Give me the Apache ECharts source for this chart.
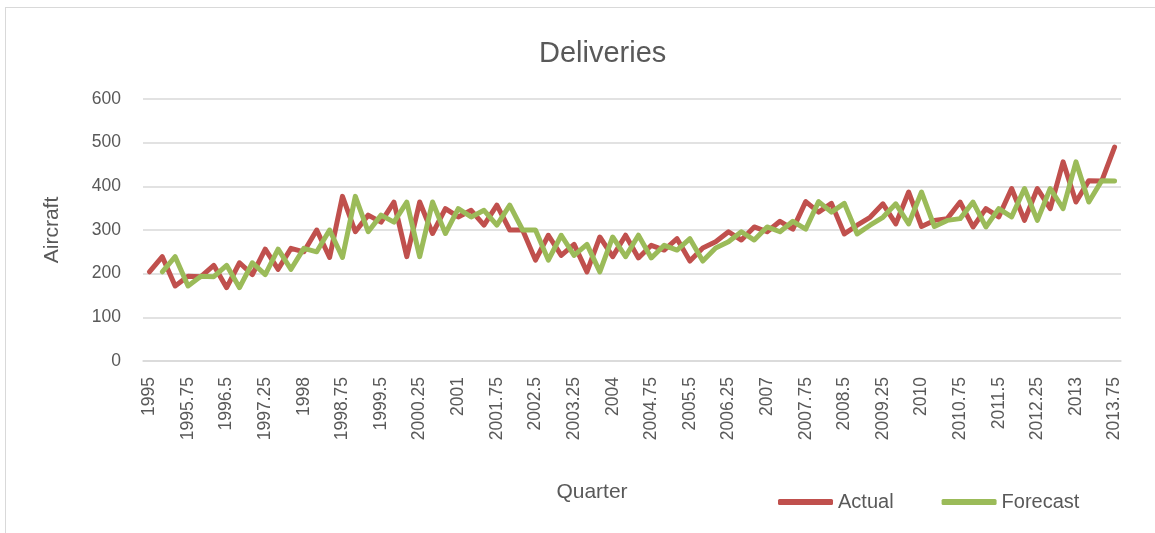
<!DOCTYPE html>
<html>
<head>
<meta charset="utf-8">
<script src="https://cdn.jsdelivr.net/npm/echarts@6/dist/echarts.min.js"></script>
<style>
  html, body { margin: 0; padding: 0; background: #fff; overflow: hidden; }
  #chart { position: absolute; left: 0; top: 0; width: 1155px; height: 533px; }
  /* light frame of the chart area, only its left and top edges are in view */
  .frame {
    position: absolute; left: 5px; top: 7px; width: 1160px; height: 540px;
    border: 1px solid #d9d9d9; pointer-events: none;
  }
</style>
</head>
<body>
<div class="frame"></div>
<div id="chart"></div>
<script>
const quarters = [
  '1995', '1995.25', '1995.5', '1995.75', '1996', '1996.25', '1996.5', '1996.75',
  '1997', '1997.25', '1997.5', '1997.75', '1998', '1998.25', '1998.5', '1998.75',
  '1999', '1999.25', '1999.5', '1999.75', '2000', '2000.25', '2000.5', '2000.75',
  '2001', '2001.25', '2001.5', '2001.75', '2002', '2002.25', '2002.5', '2002.75',
  '2003', '2003.25', '2003.5', '2003.75', '2004', '2004.25', '2004.5', '2004.75',
  '2005', '2005.25', '2005.5', '2005.75', '2006', '2006.25', '2006.5', '2006.75',
  '2007', '2007.25', '2007.5', '2007.75', '2008', '2008.25', '2008.5', '2008.75',
  '2009', '2009.25', '2009.5', '2009.75', '2010', '2010.25', '2010.5', '2010.75',
  '2011', '2011.25', '2011.5', '2011.75', '2012', '2012.25', '2012.5', '2012.75',
  '2013', '2013.25', '2013.5', '2013.75'
]

const actual = [
  204, 239, 172, 194, 193, 219, 168, 225, 198, 256, 210, 258, 250, 300, 237, 377,
  296, 334, 318, 364, 239, 364, 292, 349, 330, 345, 311, 357, 300, 300, 231, 288,
  242, 267, 204, 284, 239, 288, 236, 265, 254, 280, 229, 259, 273, 296, 277, 307,
  296, 320, 302, 365, 341, 361, 291, 311, 329, 360, 314, 387, 308, 322, 326, 364,
  307, 349, 330, 395, 322, 395, 349, 456, 364, 413, 412, 490
]

// forecast has no value for the first quarter
const forecast = [
  null, 204, 239, 172, 194, 193, 219, 168, 225, 198, 256, 210, 258, 250, 300, 237,
  377, 296, 334, 318, 364, 239, 364, 292, 349, 330, 345, 311, 357, 300, 300, 231,
  288, 242, 267, 204, 284, 239, 288, 236, 265, 254, 280, 229, 259, 273, 296, 277,
  307, 296, 320, 302, 365, 341, 361, 291, 311, 329, 360, 314, 387, 308, 322, 326,
  364, 307, 349, 330, 395, 322, 395, 349, 456, 364, 413, 412
]

const yTicks = [0, 100, 200, 300, 400, 500, 600]

const COLOR_ACTUAL   = '#c0504d'
const COLOR_FORECAST = '#9bbb59'
const TEXT_COLOR     = '#595959'
const GRID_COLOR     = '#d9d9d9'
const FONT           = '"Liberation Sans", Arial, sans-serif'

const chart = echarts.init(document.getElementById('chart'), null, { renderer: 'canvas' })

chart.setOption({
  animation: false,
  backgroundColor: 'transparent',
  textStyle: { fontFamily: FONT, color: TEXT_COLOR },

  title: {
    text: 'Deliveries',
    left: 534,
    top: 34,
    textStyle: { fontSize: 29, fontWeight: 'normal', color: TEXT_COLOR, fontFamily: FONT },
  },

  legend: {
    left: 778,
    top: 492,
    padding: 0,
    icon: 'roundRect',
    itemWidth: 55,
    itemHeight: 6,
    itemGap: 48,
    textStyle: { fontSize: 20, color: TEXT_COLOR, fontFamily: FONT },
    data: ['Actual', 'Forecast'],
  },

  grid: { left: 143, right: 34, top: 99, bottom: 172, containLabel: false },

  xAxis: {
    type: 'category',
    data: quarters,
    boundaryGap: true,
    name: 'Quarter',
    nameLocation: 'middle',
    nameGap: 121,
    nameTextStyle: { fontSize: 21, color: TEXT_COLOR, fontFamily: FONT, padding: [0, 80, 0, 0] },
    axisLine: { lineStyle: { color: GRID_COLOR, width: 1.5 } },
    axisTick: { show: false },
    axisLabel: {
      interval: 2,
      rotate: 90,
      margin: 16,
      fontSize: 17.5,
      color: TEXT_COLOR,
      fontFamily: FONT,
    },
    splitLine: { show: false },
  },

  yAxis: {
    type: 'value',
    min: yTicks[0],
    max: yTicks[yTicks.length - 1],
    interval: yTicks[1] - yTicks[0],
    name: 'Aircraft',
    nameLocation: 'middle',
    nameGap: 80,
    nameTextStyle: { fontSize: 21, color: TEXT_COLOR, fontFamily: FONT },
    axisLine: { show: false },
    axisTick: { show: false },
    axisLabel: { margin: 22, fontSize: 17.5, color: TEXT_COLOR, fontFamily: FONT },
    splitLine: { lineStyle: { color: GRID_COLOR, width: 1.5 } },
  },

  series: [
    {
      name: 'Actual',
      type: 'line',
      data: actual,
      showSymbol: false,
      symbol: 'none',
      color: COLOR_ACTUAL,
      lineStyle: { width: 5, color: COLOR_ACTUAL, cap: 'round', join: 'round' },
    },
    {
      name: 'Forecast',
      type: 'line',
      data: forecast,
      showSymbol: false,
      symbol: 'none',
      color: COLOR_FORECAST,
      lineStyle: { width: 5, color: COLOR_FORECAST, cap: 'round', join: 'round' },
    },
  ],
})
</script>
</body>
</html>
